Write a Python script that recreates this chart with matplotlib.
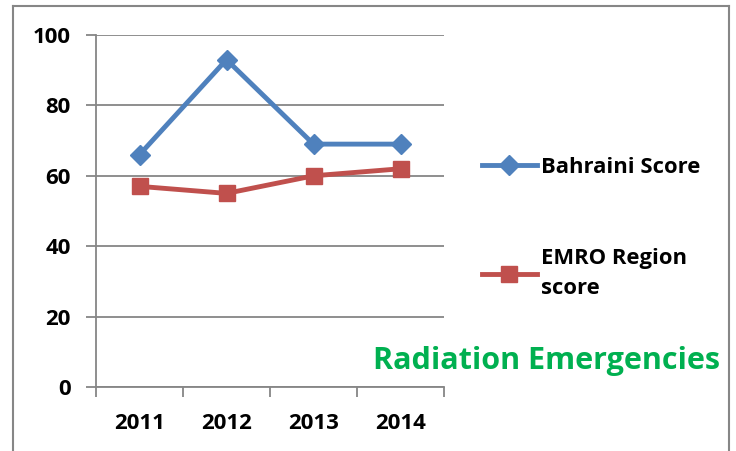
"""Radiation Emergencies: Bahraini score vs EMRO region score."""

import matplotlib

matplotlib.use("Agg")
import matplotlib.pyplot as plt
from matplotlib.lines import Line2D

years = ["2011", "2012", "2013", "2014"]
bahraini_score = [66, 93, 69, 69]
emro_score = [57, 55, 60, 62]
series_labels = ["Bahraini Score", "EMRO Region\nscore"]
chart_title = "Radiation Emergencies"

BLUE = "#4F81BD"
RED = "#C0504D"
GRID = "#868686"
GREEN = "#00B050"

plt.rcParams["font.family"] = ["Open Sans", "DejaVu Sans"]
plt.rcParams["font.weight"] = "bold"

W, H = 736, 451
fig = plt.figure(figsize=(W / 100, H / 100), dpi=100)
ax = fig.add_axes([96 / W, 1 - 387 / H, (444 - 96) / W, (387 - 35) / H])

x = list(range(len(years)))
ax.plot(x, bahraini_score, color=BLUE, lw=3.5, marker="D", markersize=10,
        label=series_labels[0], zorder=3)
ax.plot(x, emro_score, color=RED, lw=3.5, marker="s", markersize=12,
        label=series_labels[1], zorder=3)

ax.set_xlim(-0.5, len(years) - 0.5)
ax.set_ylim(0, 100)
ax.set_yticks(range(0, 101, 20))
ax.yaxis.grid(True, color=GRID, lw=1.3)
ax.set_axisbelow(True)

ax.set_xticks(x)
ax.set_xticklabels(years, fontsize=16, fontweight="bold")
ax.set_xticks([i - 0.5 for i in range(len(years) + 1)], minor=True)
ax.tick_params(axis="x", which="major", length=0, pad=19)
ax.tick_params(axis="x", which="minor", length=7, width=1.3, color=GRID,
               direction="out")
ax.tick_params(axis="y", length=7, width=1.3, color=GRID, labelsize=16,
               pad=11)
for lab in ax.get_yticklabels():
    lab.set_fontweight("bold")

for side in ["top", "right"]:
    ax.spines[side].set_visible(False)
for side in ["left", "bottom"]:
    ax.spines[side].set_color(GRID)
    ax.spines[side].set_linewidth(1.3)

leg = fig.legend(loc="upper left", bbox_to_anchor=(482 / W, 1 - 157 / H),
                 frameon=False, handlelength=2.5, handletextpad=0.2,
                 labelspacing=3.2, borderpad=0, borderaxespad=0,
                 prop={"weight": "bold", "size": 15.8})
for t in leg.get_texts():
    t.set_linespacing(1.55)

fig.text(720 / W, 1 - 361 / H, chart_title, color=GREEN, fontsize=22,
         fontweight="bold", ha="right", va="center")

# chart-area border (bottom edge runs off the image)
for xs, ys in [((13, 13), (H + 5, 6)), ((13, 729), (6, 6)),
               ((729, 729), (6, H + 5))]:
    fig.add_artist(Line2D([v / W for v in xs], [1 - v / H for v in ys],
                          color=GRID, lw=1.5, transform=fig.transFigure))

fig.savefig("out.png", dpi=100)
